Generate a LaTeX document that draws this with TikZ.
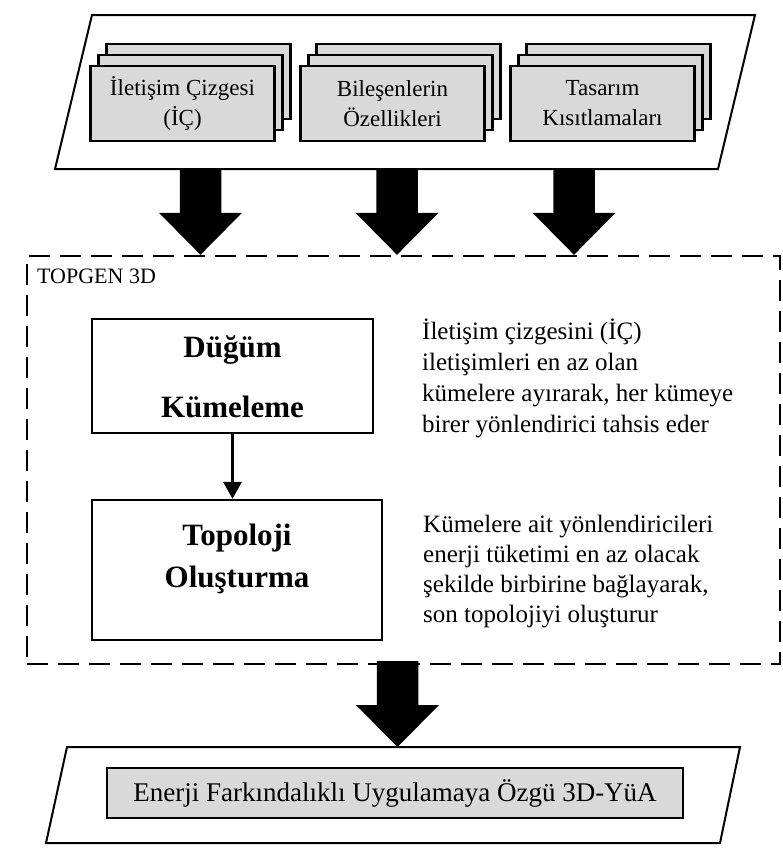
\documentclass[tikz,border=0pt]{standalone}
\usepackage{fontspec}
\setmainfont{Liberation Serif}
\usetikzlibrary{calc,arrows.meta}

\definecolor{cardgray}{HTML}{D9D9D9}

\newcommand\cardfont{\fontsize{23}{30}\selectfont}
\newcommand\notefont{\fontsize{25}{31}\selectfont}

\tikzset{
  frame/.style={draw=black, line width=2pt, line join=miter},
  card/.style={draw=black, line width=2.6pt, fill=cardgray, minimum width=184pt,
    minimum height=75pt, inner sep=0pt, align=center, font=\cardfont},
  procbox/.style={draw=black, line width=2.4pt, fill=white, inner sep=0pt},
  proclabel/.style={align=center, inner sep=0pt},
  note/.style={align=left, anchor=west, inner sep=0pt, font=\notefont},
  groupbox/.style={draw=black, line width=2.4pt, dash pattern=on 21pt off 10pt,
    inner sep=0pt},
  flow/.style={draw=black, line width=3.5pt, -{Triangle[length=17pt,width=18pt]}},
}

% a stack of three cards: name, centre of the front card, text
\newcommand\cardstack[3]{%
  \node[card] (#1-back) at ($(#2)+(16,-22)$) {};
  \node[card] (#1-mid)  at ($(#2)+(8,-11)$) {};
  \node[card] (#1) at (#2) {#3};
}

% wide filled arrow from a start point straight down to a tip point
\newcommand\fatarrow[2]{%
  \fill[black] let \p1=(#1), \p2=(#2) in
    (\x1-20.75pt,\y1) -- (\x1+20.75pt,\y1) -- (\x1+20.75pt,\y2+42pt)
    -- (\x1+41.5pt,\y2+42pt) -- (\x1,\y2) -- (\x1-41.5pt,\y2+42pt)
    -- (\x1-20.75pt,\y2+42pt) -- cycle;
}

\begin{document}
\begin{tikzpicture}[x=1pt,y=-1pt]
\useasboundingbox (0,0) rectangle (783,852);
\fill[white] (0,0) rectangle (783,852);

% inputs
\draw[frame] (92,15) -- (755,15) -- (718,169) -- (55,169) -- cycle;
\coordinate (c1) at (182.5,103.5);
\coordinate (c2) at (392.5,103.5);
\coordinate (c3) at (602.5,103.5);
\cardstack{graph}{c1}{İletişim Çizgesi\\(İÇ)}
\cardstack{props}{c2}{Bileşenlerin\\Özellikleri}
\cardstack{limits}{c3}{Tasarım\\Kısıtlamaları}

% TOPGEN 3D block
\node[groupbox, minimum width=753pt, minimum height=408pt] (group) at (403.5,460) {};
\node[anchor=base west, inner sep=0pt, font=\fontsize{22}{26}\selectfont]
  (grouplabel) at (37,283) {TOPGEN 3D};

\coordinate (src1) at (200.5,169);
\coordinate (src2) at (397,169);
\coordinate (src3) at (574,169);
\fatarrow{src1}{src1 |- group.north}
\fatarrow{src2}{src2 |- group.north}
\fatarrow{src3}{src3 |- group.north}

\node[procbox, minimum width=281pt, minimum height=114pt] (dugum) at (232.5,376) {};
\node[proclabel, font=\fontsize{31}{60}\selectfont\bfseries] (dugumtext)
  at (232.5,377) {Düğüm\\Kümeleme};
\node[procbox, minimum width=290pt, minimum height=140pt] (topoloji) at (237,570) {};
\node[proclabel, font=\fontsize{31}{42}\selectfont\bfseries] (topolojitext)
  at (237,559) {Topoloji\\Oluşturma};
\draw[flow] (dugum.south) -- (dugum.south |- topoloji.north);

\node[note] (note1) at (422,378.5)
  {İletişim çizgesini (İÇ)\\iletişimleri en az olan\\kümelere ayırarak, her kümeye\\birer yönlendirici tahsis eder};
\node[note, font=\fontsize{25}{30}\selectfont] (note2) at (423,572)
  {Kümelere ait yönlendiricileri\\enerji tüketimi en az olacak\\şekilde birbirine bağlayarak,\\son topolojiyi oluşturur};

% output
\draw[frame] (67,747) -- (740,747) -- (720,843) -- (46,843) -- cycle;
\coordinate (outtop) at (67,747);
\node[procbox, fill=cardgray, minimum width=576pt, minimum height=50pt,
  font=\fontsize{27}{30}\selectfont] (result) at (395,793)
  {Enerji Farkındalıklı Uygulamaya Özgü 3D-YüA};
\coordinate (outsrc) at (397.5,661);
\fatarrow{outsrc}{outsrc |- outtop}
\end{tikzpicture}
\end{document}
